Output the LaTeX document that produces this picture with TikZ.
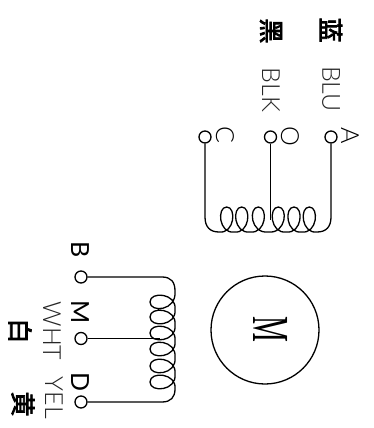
\documentclass[tikz,border=0pt]{standalone}
\usepackage{fontspec}
\newfontfamily\thinf{Lato}[UprightFont=* Light]
\newfontfamily\pinf{Lato}
\newfontfamily\cjk{Noto Sans CJK SC}[FakeBold=3]
\newfontfamily\serf{Liberation Serif}
\tikzset{
  term/.style={circle,draw=black,line width=1.3pt,fill=white,inner sep=0pt,minimum size=12pt},
  wire/.style={draw=black,line width=1.3pt,line join=round},
  lab/.style={rotate=-90,inner sep=0pt,font=\thinf\fontsize{25}{25}\selectfont,text=black!85},
  pinthin/.style={rotate=-90,inner sep=0pt,font=\thinf\fontsize{25}{25}\selectfont,text=black},
  pin/.style={rotate=-90,inner sep=0pt,font=\pinf\fontsize{25}{25}\selectfont,text=black},
  han/.style={rotate=-90,inner sep=0pt,font=\cjk\fontsize{25}{25}\selectfont,text=black},
}
\def\uloop#1#2{.. controls ({#1+8},234) and ({#1+10},207) .. (#1,207) .. controls ({#1-10},207) and ({#1-8},234) .. (#2,232) }
\def\lloop#1#2{.. controls (177,{#1+9}) and (150,{#1+11}) .. (150,#1) .. controls (150,{#1-11}) and (177,{#1-9}) .. (175,#2) }
\begin{document}
\begin{tikzpicture}[x=1pt,y=-1pt]
\useasboundingbox (0,0) rectangle (374,428);
% upper winding
\node[term] (A) at (331,137) {};
\node[term] (O) at (270.5,137) {};
\node[term] (C) at (205,137) {};
\coordinate (Ot) at (270.5,220);
\draw[wire] (C.south) -- (205,217) .. controls (205,227) and (210,232) .. (219,232)
  \uloop{226.7}{234.2} \uloop{241.7}{250} \uloop{258.3}{268.3} \uloop{278.3}{286.2} \uloop{294}{301.7} \uloop{309.3}{317}
  .. controls (326,232) and (331,227) .. (331,217) -- (A.south);
\draw[wire] (O.south) -- (Ot);
% lower winding
\node[term] (B) at (81,277) {};
\node[term] (Mt) at (81,338.5) {};
\node[term] (D) at (81,402) {};
\coordinate (Mw) at (160,338.5);
\draw[wire] (B.east) -- (162,277) .. controls (171,277) and (175,282) .. (175,291)
  \lloop{302}{309.5} \lloop{317}{325} \lloop{333}{341} \lloop{349}{357.5} \lloop{366}{374} \lloop{382}{389}
  .. controls (175,397) and (171,402) .. (162,402) -- (D.east);
\draw[wire] (Mt.east) -- (Mw);
% motor
\node[circle,draw=black,line width=1.3pt,minimum size=108pt,inner sep=0pt] (motor) at (265,330) {};
\node[rotate=-90,inner sep=0pt,font=\serf\fontsize{52}{52}\selectfont] (mlab) at (271,329) {\scalebox{0.56}[1]{M}};
% labels
\node[pinthin] (lA) at (350,136) {A};
\node[pinthin] (lO) at (290,136) {O};
\node[pinthin] (lC) at (225,135) {C};
\node[pin] (lB) at (80,250) {B};
\node[pin] (lM) at (80,312) {M};
\node[pin] (lD) at (80,382) {D};
\node[lab] (blu) at (331,89) {BLU};
\node[lab] (blk) at (271,90) {BLK};
\node[lab] (wht) at (52,331) {WHT};
\node[lab] (yel) at (54,398) {YEL};
\node[han] (hb) at (331,30) {蓝};
\node[han] (hk) at (271,31) {黑};
\node[han] (hw) at (20,331) {白};
\node[han] (hy) at (23,404) {黄};
\end{tikzpicture}
\end{document}
